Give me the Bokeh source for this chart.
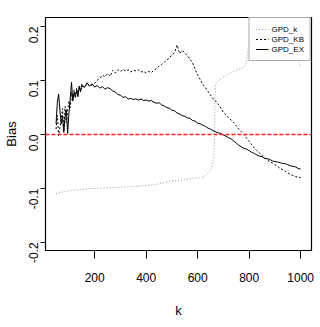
import math
from bokeh.plotting import figure
from bokeh.models import (Range1d, FixedTicker, Span, Legend, LegendItem)
from bokeh.embed import file_html
from bokeh.resources import INLINE

# ---------------- data ----------------
k_ex = [50, 55, 60, 65, 70, 75, 80, 85, 90, 95, 100, 105, 110, 115, 120, 125, 130,
        135, 140, 145, 150, 160, 170, 180, 190,
        200, 210, 220, 230, 240, 250, 260, 270, 280, 290, 300, 310, 320, 330, 340,
        350, 360, 370, 380, 390, 400, 410, 420, 430, 440, 450, 460, 470, 480, 490,
        500, 510, 520, 530, 540, 550, 560, 570, 580, 590, 600, 610, 620, 630, 640,
        650, 660, 670, 680, 690, 700, 710, 720, 730, 740, 750, 760, 770, 780, 790,
        800, 810, 820, 830, 840, 850, 860, 870, 880, 890, 900, 910, 920, 930, 940,
        950, 960, 970, 980, 990, 1000]
bias_ex = [0.020, 0.060, 0.075, 0.045, 0.020, 0.035, 0.004, 0.032, 0.046, 0.002, 0.040,
           0.066, 0.097, 0.062, 0.078, 0.069, 0.082, 0.070, 0.090, 0.079, 0.093, 0.087,
           0.096, 0.090, 0.094,
           0.088, 0.091, 0.086, 0.089, 0.084, 0.087, 0.085, 0.081, 0.079, 0.074, 0.073,
           0.069, 0.070, 0.066, 0.067, 0.065, 0.066, 0.064, 0.066, 0.063, 0.064, 0.062,
           0.063, 0.060, 0.058, 0.059, 0.055, 0.053, 0.050, 0.049, 0.045, 0.044, 0.040,
           0.038, 0.035, 0.034, 0.031, 0.030, 0.026, 0.025, 0.021, 0.020, 0.017, 0.015,
           0.012, 0.010, 0.007, 0.005, 0.003, 0.002, -0.001, -0.003, -0.006, -0.008,
           -0.012, -0.016, -0.020, -0.023, -0.026, -0.027, -0.030, -0.033, -0.035,
           -0.038, -0.040, -0.041, -0.044, -0.045, -0.046, -0.049, -0.050, -0.051,
           -0.052, -0.054, -0.054, -0.056, -0.058, -0.059, -0.060, -0.063, -0.064]

k_kb = list(k_ex)
bias_kb = [0.010, 0.035, -0.002, 0.012, 0.028, 0.048, 0.006, 0.052, 0.022, 0.045, 0.062,
           0.050, 0.078, 0.064, 0.083, 0.070, 0.086, 0.076, 0.088, 0.080, 0.090, 0.088,
           0.094, 0.090, 0.092,
           0.095, 0.101, 0.104, 0.110, 0.107, 0.113, 0.108, 0.119, 0.114, 0.120, 0.117,
           0.121, 0.118, 0.120, 0.116, 0.119, 0.118, 0.120, 0.116, 0.117, 0.114, 0.117,
           0.115, 0.119, 0.122, 0.127, 0.130, 0.134, 0.138, 0.142, 0.148, 0.152, 0.166,
           0.150, 0.156, 0.151, 0.146, 0.140, 0.133, 0.121, 0.110, 0.102, 0.093, 0.087,
           0.080, 0.073, 0.066, 0.062, 0.056, 0.049, 0.041, 0.036, 0.031, 0.027, 0.022,
           0.016, 0.010, 0.005, 0.000, -0.007, -0.013, -0.019, -0.025, -0.030, -0.034,
           -0.039, -0.043, -0.047, -0.050, -0.053, -0.056, -0.059, -0.063, -0.065,
           -0.068, -0.071, -0.074, -0.076, -0.078, -0.079, -0.080]

k_k = [50, 70, 90, 110, 130, 150, 170, 190, 210, 230, 250, 270, 290, 310, 330, 350,
       370, 390, 410, 430, 450, 470, 490, 510, 530, 550, 570, 590, 610, 620, 630, 640,
       650, 655, 660, 663, 665, 667, 668, 670, 680, 700, 720, 740, 760, 775, 785, 790,
       795, 800, 808, 815, 830, 870, 910, 950, 975, 985, 990, 995, 1000]
bias_k = [-0.110, -0.107, -0.105, -0.104, -0.103, -0.102, -0.101, -0.100, -0.100,
          -0.099, -0.099, -0.098, -0.098, -0.097, -0.097, -0.096, -0.096, -0.095,
          -0.094, -0.093, -0.091, -0.089, -0.087, -0.086, -0.085, -0.083, -0.082,
          -0.080, -0.080, -0.079, -0.076, -0.072, -0.066, -0.060, -0.050, -0.036,
          0.000, 0.060, 0.088, 0.094, 0.100, 0.106, 0.112, 0.117, 0.121, 0.124, 0.128,
          0.135, 0.155, 0.180, 0.210, 0.240, 0.300, 0.360, 0.380, 0.330, 0.250, 0.190,
          0.150, 0.134, 0.124]

x_ticks = [200, 400, 600, 800, 1000]
y_ticks = [-0.2, -0.1, 0.0, 0.1, 0.2]
y_tick_labels = ["-0.2", "-0.1", "0.0", "0.1", "0.2"]
series_names = ["GPD_k", "GPD_KB", "GPD_EX"]

FONT = "Liberation Sans"

# ---------------- figure ----------------
p = figure(width=320, height=327, output_backend="svg", toolbar_location=None,
           x_range=Range1d(9, 1042), y_range=Range1d(-0.215, 0.217),
           min_border_left=42, min_border_right=9, min_border_top=17,
           min_border_bottom=77)
p.background_fill_color = "white"
p.border_fill_color = "white"
p.grid.visible = False
p.outline_line_color = "black"
p.outline_line_width = 1.2

r_k = p.line(k_k, bias_k, line_color="#9a9a9a", line_width=1, line_dash="1 2")
r_kb = p.line(k_kb, bias_kb, line_color="black", line_width=1, line_dash="2 2")
r_ex = p.line(k_ex, bias_ex, line_color="black", line_width=1)

p.add_layout(Span(location=0, dimension="width", line_color="#ff2020",
                  line_width=1.4, line_dash="4 2"))

# axes
xa = p.xaxis[0]
xa.ticker = FixedTicker(ticks=x_ticks)
xa.axis_line_color = None
xa.major_tick_out = 8
xa.major_tick_in = 0
xa.minor_tick_line_color = None
xa.major_label_standoff = 14
xa.major_label_text_font = FONT
xa.major_label_text_font_size = "12px"
xa.major_label_text_color = "black"
xa.axis_label = "k"
xa.axis_label_text_font = FONT
xa.axis_label_text_font_style = "normal"
xa.axis_label_text_font_size = "13px"
xa.axis_label_text_color = "black"
xa.axis_label_standoff = 18

ya = p.yaxis[0]
ya.ticker = FixedTicker(ticks=y_ticks)
ya.major_label_overrides = {t: l for t, l in zip(y_ticks, y_tick_labels)}
ya.axis_line_color = None
ya.major_tick_out = 5
ya.major_tick_in = 0
ya.minor_tick_line_color = None
ya.major_label_orientation = math.pi / 2
ya.major_label_standoff = 7
ya.major_label_text_font = FONT
ya.major_label_text_font_size = "12px"
ya.major_label_text_color = "black"
ya.axis_label = "Bias"
ya.axis_label_text_font = FONT
ya.axis_label_text_font_style = "normal"
ya.axis_label_text_font_size = "13px"
ya.axis_label_text_color = "black"
ya.axis_label_standoff = 3

legend = Legend(items=[LegendItem(label=series_names[0], renderers=[r_k]),
                       LegendItem(label=series_names[1], renderers=[r_kb]),
                       LegendItem(label=series_names[2], renderers=[r_ex])],
                location="top_right")
legend.margin = 0
legend.padding = 6
legend.spacing = 0
legend.label_height = 10
legend.glyph_height = 10
legend.glyph_width = 13
legend.label_standoff = 3
legend.label_text_font = FONT
legend.label_text_font_size = "8px"
legend.label_text_color = "black"
legend.label_text_line_height = 1.0
legend.border_line_color = "#555555"
legend.border_line_width = 1.5
legend.background_fill_color = "white"
legend.background_fill_alpha = 1
p.add_layout(legend, "center")

open("out.html", "w").write(file_html(p, INLINE))
